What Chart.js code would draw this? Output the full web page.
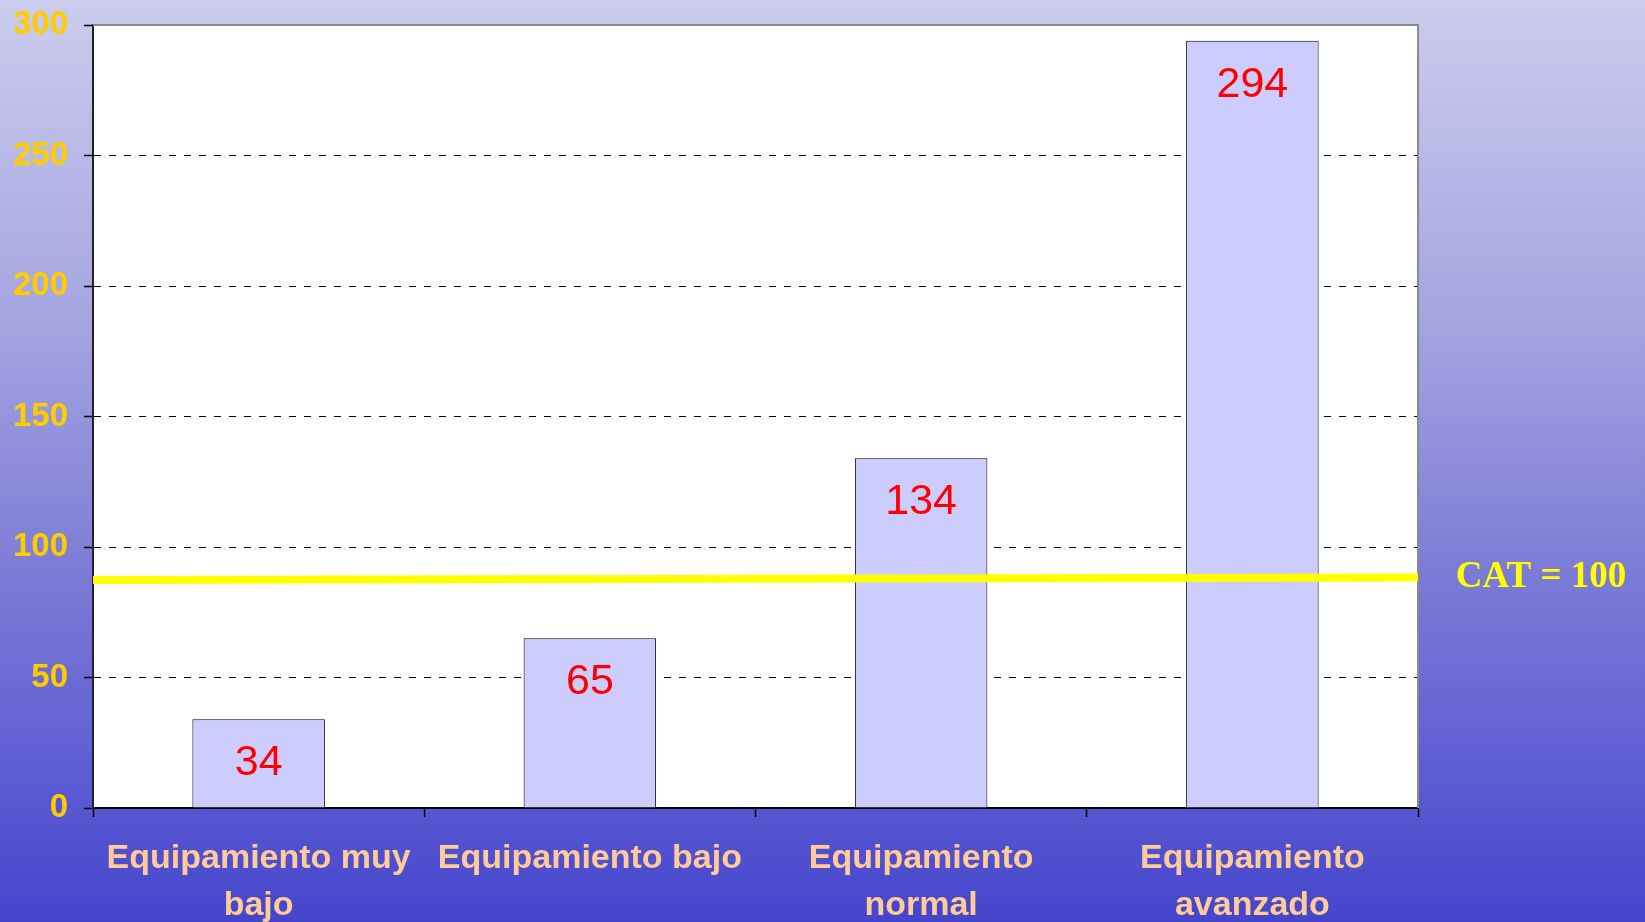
<!DOCTYPE html>
<html>
<head>
<meta charset="utf-8">
<script src="https://cdn.jsdelivr.net/npm/chart.js@4"></script>
<style>
  html, body { margin: 0; padding: 0; overflow: hidden; }
  #wrap { width: 1645px; height: 922px; position: relative; }
</style>
</head>
<body>
<div id="wrap"><canvas id="myChart" width="1645" height="922"></canvas></div>
<script>
// datos
const categorias = [
    ['Equipamiento muy', 'bajo'],
    ['Equipamiento bajo'],
    ['Equipamiento', 'normal'],
    ['Equipamiento', 'avanzado']
];
const valores = [34, 65, 134, 294];
const lineaCatX = [0, 1];
const lineaCatY = [87.4, 88.3];
const etiquetaCat = 'CAT = 100';
const ejeY = { min: 0, max: 300, paso: 50 };

const fondo = {
    id: 'fondo',
    beforeDraw(chart) {
        const ctx = chart.ctx, a = chart.chartArea;
        const g = ctx.createLinearGradient(0, 0, 0, chart.height);
        g.addColorStop(0, '#CCCCEE');
        g.addColorStop(0.36, '#A3A3E0');
        g.addColorStop(0.63, '#7A7AD6');
        g.addColorStop(0.87, '#5858D2');
        g.addColorStop(1, '#4545CC');
        ctx.save();
        ctx.fillStyle = g;
        ctx.fillRect(0, 0, chart.width, chart.height);
        ctx.fillStyle = '#FFFFFF';
        ctx.fillRect(a.left, a.top, a.right - a.left, a.bottom - a.top);
        ctx.restore();
    },
    beforeDatasetsDraw(chart) {
        const ctx = chart.ctx, a = chart.chartArea;
        ctx.save();
        ctx.strokeStyle = '#8a8a8a';
        ctx.lineWidth = 2;
        ctx.beginPath();
        ctx.moveTo(a.left, a.top);
        ctx.lineTo(a.right, a.top);
        ctx.lineTo(a.right, a.bottom);
        ctx.stroke();
        ctx.restore();
    },
    afterDraw(chart) {
        const ctx = chart.ctx;
        const meta = chart.getDatasetMeta(1);
        ctx.save();
        ctx.fillStyle = '#FF0000';
        ctx.font = '43px "Liberation Sans", Arial, sans-serif';
        ctx.textAlign = 'center';
        ctx.textBaseline = 'middle';
        meta.data.forEach((bar, i) => {
            ctx.fillText(String(valores[i]), bar.x, bar.y + 44);
        });
        // etiqueta de la linea
        const yl = chart.scales.y.getPixelForValue(lineaCatY[1]);
        ctx.fillStyle = '#FFFF00';
        ctx.font = 'bold 37px "Liberation Serif", "Times New Roman", serif';
        ctx.fillText(etiquetaCat, 1541, yl);
        ctx.restore();
    }
};

const ctx = document.getElementById('myChart');
const myChart = new Chart(ctx, {
    type: 'bar',
    data: {
        labels: categorias,
        datasets: [
            {
                type: 'line',
                data: lineaCatX.map((x, i) => ({ x: x, y: lineaCatY[i] })),
                xAxisID: 'xl',
                borderColor: '#FFFF00',
                borderWidth: 8,
                pointRadius: 0,
                fill: false,
                tension: 0,
                order: 0
            },
            {
                type: 'bar',
                data: valores,
                xAxisID: 'x',
                backgroundColor: '#CCCCFF',
                borderColor: '#000000',
                borderWidth: 1,
                grouped: false,
                barPercentage: 0.8,
                categoryPercentage: 0.5,
                order: 1
            }
        ]
    },
    options: {
        responsive: false,
        animation: false,
        layout: { padding: { left: 0, top: 25, right: 227, bottom: 0 } },
        plugins: { legend: { display: false }, tooltip: { enabled: false } },
        scales: {
            x: {
                type: 'category',
                offset: true,
                grid: { offset: true, drawOnChartArea: false, tickLength: 9, tickColor: '#000', tickWidth: 1.5 },
                border: { color: '#000', width: 2 },
                ticks: {
                    color: '#FFCC99',
                    padding: 18,
                    maxRotation: 0,
                    autoSkip: false,
                    font: { family: '"Liberation Sans", Arial, sans-serif', size: 34, weight: 'bold', lineHeight: 1.38 }
                },
                afterFit(s) { s.height = 114; s.paddingLeft = 0; s.paddingRight = 0; }
            },
            xl: {
                type: 'linear',
                display: false,
                offset: false,
                grid: { offset: false },
                min: 0,
                max: 1
            },
            y: {
                min: ejeY.min,
                max: ejeY.max,
                ticks: {
                    stepSize: ejeY.paso,
                    color: '#FFCC00',
                    padding: 16,
                    font: { family: '"Liberation Sans", Arial, sans-serif', size: 33, weight: 'bold' }
                },
                grid: {
                    color: c => (c.tick && (c.tick.value === 0 || c.tick.value === 300)) ? 'rgba(0,0,0,0)' : '#000',
                    lineWidth: 1,
                    tickColor: '#000',
                    tickLength: 9,
                    tickWidth: 1.5
                },
                border: { color: '#222', width: 2, dash: [7, 8] },
                afterFit(s) { s.width = 93; s.paddingTop = 0; s.paddingBottom = 0; }
            }
        }
    },
    plugins: [fondo]
});
</script>
</body>
</html>
